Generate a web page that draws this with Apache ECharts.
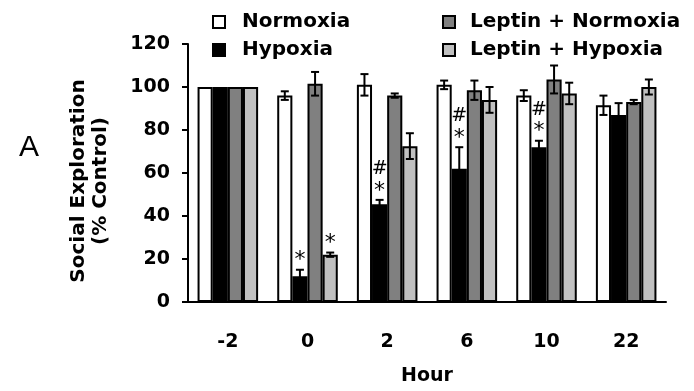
<!DOCTYPE html>
<html>
<head>
<meta charset="utf-8">
<script src="https://cdn.jsdelivr.net/npm/echarts@6/dist/echarts.min.js"></script>
<style>
    html, body { margin: 0; background: #fff; }
    #chart { width: 694px; height: 391px; }
</style>
</head>
<body>
<div id="chart"></div>
<script>
    // values (% of control)
    var hours = ['-2', '0', '2', '6', '10', '22'];
    var normoxia = [100, 96, 101, 101, 96, 91.5];
    var normoxiaErr = [0, 2, 5, 2, 2.5, 4.5];
    var hypoxia = [100, 12, 45.5, 62, 72, 87];
    var hypoxiaErr = [0, 3, 2, 10, 3, 5.5];
    var leptinNormoxia = [100, 101.5, 96, 98.5, 103.5, 93];
    var leptinNormoxiaErr = [0, 5.5, 1, 4.5, 6.5, 1];
    var leptinHypoxia = [100, 22, 72.5, 94, 97, 100];
    var leptinHypoxiaErr = [0, 1, 6, 6, 5, 3.5];
    var hypoxiaSig = ['', '*', '#*', '#*', '#*', ''];
    var leptinHypoxiaSig = ['', '*', '', '', '', ''];

    var BAR_FRAC = 0.19;
    var FONT = 'DejaVu Sans';
    var myChart = echarts.init(document.getElementById('chart'));

    function barSeries(name, data, color) {
        return {
            name: name,
            type: 'bar',
            data: data,
            barWidth: (BAR_FRAC * 100) + '%',
            barGap: '0%',
            itemStyle: { color: color, borderColor: '#000', borderWidth: 2 }
        };
    }

    function errorSeries(slot, vals, errs) {
        var d = [];
        for (var i = 0; i < vals.length; i++) d.push([i, vals[i], errs[i]]);
        return {
            type: 'custom',
            data: d,
            encode: { x: 0, y: 1 },
            z: 5,
            silent: true,
            renderItem: function (params, api) {
                var i = api.value(0), v = api.value(1), e = api.value(2);
                if (!e) return;
                var band = api.size([1, 0])[0];
                var dx = (slot - 1.5) * band * BAR_FRAC;
                var top = api.coord([i, v + e]);
                var bot = api.coord([i, v - e]);
                var x = top[0] + dx, hw = 4;
                var st = { stroke: '#000', lineWidth: 2 };
                return {
                    type: 'group',
                    children: [
                        { type: 'line', shape: { x1: x, y1: top[1], x2: x, y2: bot[1] }, style: st },
                        { type: 'line', shape: { x1: x - hw, y1: top[1], x2: x + hw, y2: top[1] }, style: st },
                        { type: 'line', shape: { x1: x - hw, y1: bot[1], x2: x + hw, y2: bot[1] }, style: st }
                    ]
                };
            }
        };
    }

    // * just above the error cap, # above the *
    function sigSeries(slot, vals, errs, marks) {
        var d = [];
        for (var i = 0; i < vals.length; i++) d.push([i, vals[i] + errs[i]]);
        return {
            type: 'custom',
            data: d,
            encode: { x: 0, y: 1 },
            z: 6,
            silent: true,
            renderItem: function (params, api) {
                var i = api.value(0), top = api.value(1), m = marks[i];
                if (!m) return;
                var band = api.size([1, 0])[0];
                var p = api.coord([i, top]);
                var x = p[0] + (slot - 1.5) * band * BAR_FRAC;
                var kids = [{
                    type: 'text',
                    style: { text: '*', x: x, y: p[1] - 9, align: 'center', verticalAlign: 'middle',
                             font: '22px "' + FONT + '"', fill: '#000' }
                }];
                if (m.indexOf('#') >= 0) {
                    kids.push({
                        type: 'text',
                        style: { text: '#', x: x, y: p[1] - 31, align: 'center', verticalAlign: 'middle',
                                 font: '19px "' + FONT + '"', fill: '#000' }
                    });
                }
                return { type: 'group', children: kids };
            }
        };
    }

    function legendText(pad) {
        return { fontFamily: FONT, fontWeight: 'bold', fontSize: 20, color: '#000',
                 lineHeight: 19, padding: [0, 0, 0, pad] };
    }

    myChart.setOption({
        animation: false,
        backgroundColor: '#fff',
        grid: { left: 188, right: 28, top: 44, bottom: 84 },
        legend: [{
            data: ['Normoxia', 'Hypoxia'],
            orient: 'vertical',
            left: 207, top: 7,
            itemWidth: 12, itemHeight: 12, itemGap: 8,
            icon: 'rect',
            textStyle: legendText(12)
        }, {
            data: ['Leptin + Normoxia', 'Leptin + Hypoxia'],
            orient: 'vertical',
            left: 437, top: 7,
            itemWidth: 12, itemHeight: 12, itemGap: 8,
            icon: 'rect',
            textStyle: legendText(10)
        }],
        xAxis: {
            type: 'category',
            data: hours,
            name: 'Hour',
            nameLocation: 'middle',
            nameGap: 65,
            nameTextStyle: { fontFamily: FONT, fontWeight: 'bold', fontSize: 19, color: '#000' },
            axisLine: { lineStyle: { color: '#000', width: 2 } },
            axisTick: { length: 6, lineStyle: { color: '#000', width: 2 } },
            axisLabel: { margin: 31, fontFamily: FONT, fontWeight: 'bold', fontSize: 19, color: '#000' }
        },
        yAxis: {
            type: 'value',
            min: 0, max: 120, interval: 20,
            splitLine: { show: false },
            axisLine: { show: true, lineStyle: { color: '#000', width: 2 } },
            axisTick: { show: true, length: 6, lineStyle: { color: '#000', width: 2 } },
            axisLabel: { margin: 18, fontFamily: FONT, fontWeight: 'bold', fontSize: 19, color: '#000' }
        },
        graphic: [{
            type: 'text',
            x: 90, y: 181,
            rotation: Math.PI / 2,
            style: {
                text: 'Social Exploration\n(% Control)',
                align: 'center', verticalAlign: 'middle',
                font: 'bold 20px "' + FONT + '"', lineHeight: 22, fill: '#000'
            }
        }, {
            type: 'text',
            x: 29, y: 148,
            style: { text: 'A', align: 'center', verticalAlign: 'middle',
                     font: '30px "Liberation Sans"', fill: '#000' }
        }],
        series: [
            barSeries('Normoxia', normoxia, '#ffffff'),
            barSeries('Hypoxia', hypoxia, '#000000'),
            barSeries('Leptin + Normoxia', leptinNormoxia, '#808080'),
            barSeries('Leptin + Hypoxia', leptinHypoxia, '#c0c0c0'),
            errorSeries(0, normoxia, normoxiaErr),
            errorSeries(1, hypoxia, hypoxiaErr),
            errorSeries(2, leptinNormoxia, leptinNormoxiaErr),
            errorSeries(3, leptinHypoxia, leptinHypoxiaErr),
            sigSeries(1, hypoxia, hypoxiaErr, hypoxiaSig),
            sigSeries(3, leptinHypoxia, leptinHypoxiaErr, leptinHypoxiaSig)
        ]
    });
</script>
</body>
</html>
